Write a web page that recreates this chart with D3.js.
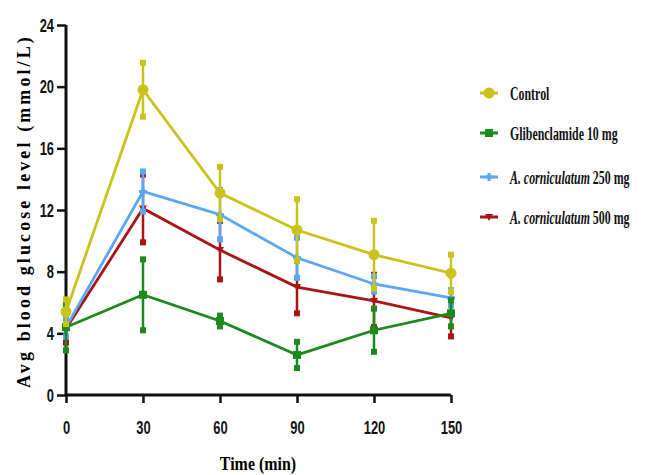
<!DOCTYPE html>
<html>
<head>
<meta charset="utf-8">
<script src="https://cdn.jsdelivr.net/npm/d3@7"></script>
<style>
  body { margin: 0; background: #fff; }
  .tick text { font-family: "Liberation Sans", Arial, sans-serif; font-weight: bold; font-size: 19px; fill: #111; }
  .legend text { font-family: "Liberation Serif", "Times New Roman", serif; font-weight: bold; font-size: 18px; fill: #111; }
</style>
</head>
<body>
<div class="chart"></div>
<script>
var svgWidth = 650;
var svgHeight = 475;

var margin = { top: 25, right: 199, bottom: 80, left: 66 };

var width = svgWidth - margin.left - margin.right;
var height = svgHeight - margin.top - margin.bottom;

// Time points and y ticks
var times = [0, 30, 60, 90, 120, 150];
var yTicks = [0, 4, 8, 12, 16, 20, 24];
var seriesNames = ["Control", "Glibenclamide 10 mg", "A. corniculatum 250 mg", "A. corniculatum 500 mg"];

// Means and error (SD) per series
var controlMean = [5.4, 19.8, 13.1, 10.7, 9.1, 7.9];
var controlErr = [0.8, 1.75, 1.7, 2.0, 2.2, 1.2];
var glibMean = [4.4, 6.5, 4.8, 2.6, 4.2, 5.3];
var glibErr = [1.5, 2.3, 0.35, 0.85, 1.4, 0.85];
var ac250Mean = [4.4, 13.2, 11.7, 8.9, 7.2, 6.3];
var ac250Err = [0.6, 1.3, 1.6, 1.3, 0.5, 0.5];
var ac500Mean = [4.3, 12.1, 9.4, 7.0, 6.1, 5.0];
var ac500Err = [0.9, 2.2, 1.9, 1.7, 1.7, 1.2];

var colors = ["#c8c41c", "#1d8a1d", "#5aa8f5", "#a91515"];
var symbols = ["circle", "square", "plus", "tri"];

var allSeries = [
  { name: seriesNames[0], mean: controlMean, err: controlErr },
  { name: seriesNames[1], mean: glibMean, err: glibErr },
  { name: seriesNames[2], mean: ac250Mean, err: ac250Err },
  { name: seriesNames[3], mean: ac500Mean, err: ac500Err }
];

var svg = d3
  .select(".chart")
  .append("svg")
  .attr("width", svgWidth)
  .attr("height", svgHeight);

var chart = svg.append("g")
  .attr("transform", "translate(" + margin.left + "," + margin.top + ")");

var xScale = d3.scaleLinear().domain([0, 150]).range([0, width]);
var yScale = d3.scaleLinear().domain([0, 24]).range([height, 0]);

var bottomAxis = d3.axisBottom(xScale).tickValues(times).tickSize(8);
var leftAxis = d3.axisLeft(yScale).tickValues(yTicks).tickSize(9);

var xAxisG = chart.append("g")
  .attr("transform", "translate(0," + height + ")")
  .call(bottomAxis);
var yAxisG = chart.append("g").call(leftAxis);

[xAxisG, yAxisG].forEach(function(g) {
  g.select(".domain").attr("stroke", "#111").attr("stroke-width", 3);
  g.selectAll(".tick line").attr("stroke", "#111").attr("stroke-width", 2.5);
});
xAxisG.select(".domain").attr("d", "M0,0H" + width);
yAxisG.select(".domain").attr("d", "M0," + height + "V0");

// narrow, condensed tick labels
var sx = 0.68;
xAxisG.selectAll(".tick text")
  .attr("transform", "scale(" + sx + ",1)")
  .attr("x", 0)
  .attr("y", 26);
yAxisG.selectAll(".tick text")
  .attr("transform", "scale(" + sx + ",1)")
  .attr("x", -12 / sx);

// marker drawing
function drawMarker(g, type, color, x, y) {
  if (type === "circle") {
    g.append("circle").attr("cx", x).attr("cy", y).attr("r", 5.5).attr("fill", color);
  } else if (type === "square") {
    g.append("rect").attr("x", x - 4).attr("y", y - 4).attr("width", 8).attr("height", 8).attr("fill", color);
  } else if (type === "plus") {
    g.append("path").attr("d", "M" + (x - 4) + "," + y + "H" + (x + 4) + "M" + x + "," + (y - 4) + "V" + (y + 4))
      .attr("stroke", color).attr("stroke-width", 3);
  } else {
    g.append("path").attr("d", "M" + (x - 4) + "," + (y - 3) + "L" + (x + 4) + "," + (y - 3) + "L" + x + "," + (y + 4) + "Z")
      .attr("fill", color);
  }
}

var line = d3.line()
  .x(function(d) { return xScale(d.t); })
  .y(function(d) { return yScale(d.v); });

// draw in reverse so control sits on top
allSeries.slice().reverse().forEach(function(s) {
  var i = seriesNames.indexOf(s.name);
  var color = colors[i];
  var pts = times.map(function(t, j) { return { t: t, v: s.mean[j], e: s.err[j] }; });
  var g = chart.append("g");

  pts.forEach(function(p) {
    var x = xScale(p.t);
    g.append("line")
      .attr("x1", x).attr("x2", x)
      .attr("y1", yScale(p.v - p.e)).attr("y2", yScale(p.v + p.e))
      .attr("stroke", color).attr("stroke-width", 2.5);
    [p.v - p.e, p.v + p.e].forEach(function(v) {
      g.append("rect")
        .attr("x", x - 3).attr("y", yScale(v) - 3)
        .attr("width", 6).attr("height", 6)
        .attr("fill", color);
    });
  });

  g.append("path")
    .datum(pts)
    .attr("d", line)
    .attr("fill", "none")
    .attr("stroke", color)
    .attr("stroke-width", 2.8);

  pts.forEach(function(p) {
    drawMarker(g, symbols[i], color, xScale(p.t), yScale(p.v));
  });
});

// axis titles
var tx = 258;
svg.append("text")
  .attr("x", tx)
  .attr("y", 470)
  .attr("text-anchor", "middle")
  .style("font-family", "'Liberation Serif', 'Times New Roman', serif")
  .style("font-weight", "bold")
  .style("font-size", "19px")
  .attr("transform", "translate(" + tx + ",0) scale(0.84,1) translate(" + (-tx) + ",0)")
  .text("Time (min)");

svg.append("text")
  .attr("transform", "translate(30,211) rotate(-90)")
  .attr("text-anchor", "middle")
  .style("font-family", "'Liberation Serif', 'Times New Roman', serif")
  .style("font-weight", "bold")
  .style("font-size", "18px")
  .style("letter-spacing", "3.1px")
  .text("Avg blood glucose level (mmol/L)");

// legend
var legendY = [93, 133, 177, 217];
var legend = svg.append("g").attr("class", "legend");
seriesNames.forEach(function(name, i) {
  var y = legendY[i];
  var lg = legend.append("g");
  lg.append("line").attr("x1", 480).attr("x2", 498).attr("y1", y).attr("y2", y)
    .attr("stroke", colors[i]).attr("stroke-width", 3);
  drawMarker(lg, symbols[i], colors[i], 489, y);
  var t = lg.append("text").attr("x", 510).attr("y", y + 7)
    .attr("transform", "translate(510,0) scale(0.66,1) translate(-510,0)");
  if (name.indexOf("A. corniculatum") === 0) {
    t.append("tspan").style("font-style", "italic").text("A. corniculatum");
    t.append("tspan").text(name.replace("A. corniculatum", ""));
  } else {
    t.text(name);
  }
});
</script>
</body>
</html>
